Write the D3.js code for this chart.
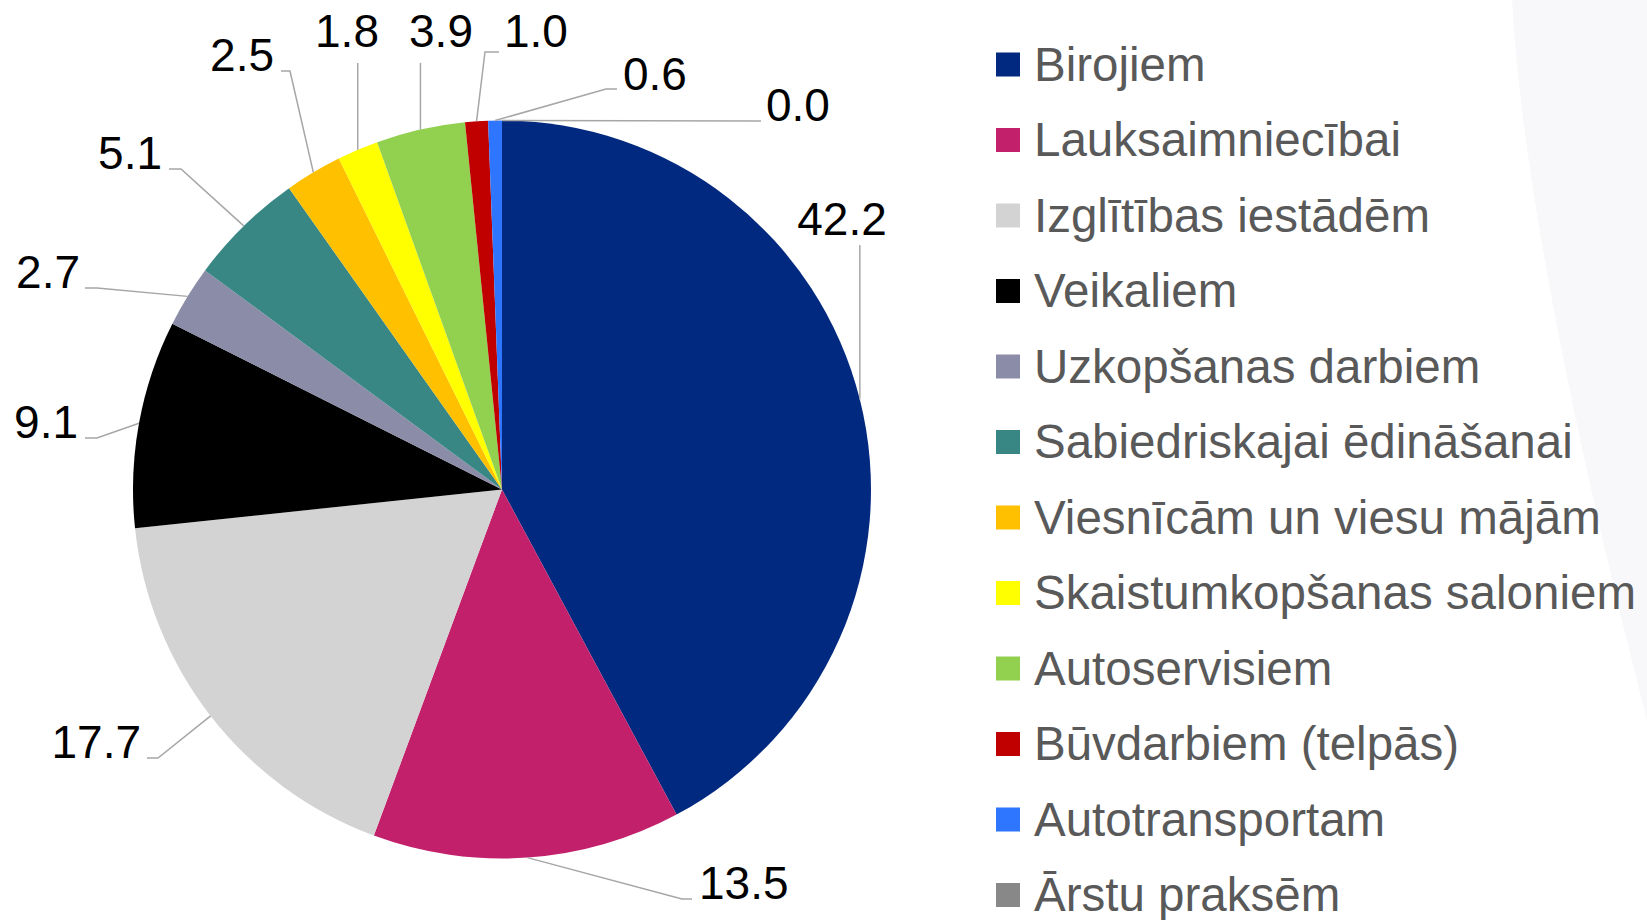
<!DOCTYPE html>
<html>
<head>
<meta charset="utf-8">
<script src="https://cdn.jsdelivr.net/npm/d3@7"></script>
<style>
  body { margin: 0; background: #fff; }
  svg { display: block; font-family: "Liberation Sans", Arial, sans-serif; }
</style>
</head>
<body>
<div id="chart"></div>
<script>
// data
const categories = ["Birojiem", "Lauksaimniecībai", "Izglītības iestādēm", "Veikaliem",
  "Uzkopšanas darbiem", "Sabiedriskajai ēdināšanai", "Viesnīcām un viesu mājām",
  "Skaistumkopšanas saloniem", "Autoservisiem", "Būvdarbiem (telpās)",
  "Autotransportam", "Ārstu praksēm"];
const values = [42.2, 13.5, 17.7, 9.1, 2.7, 5.1, 2.5, 1.8, 3.9, 1.0, 0.6, 0.0];
const colors = ["#00297f", "#c2206b", "#d3d3d3", "#000000", "#8b8ca7", "#388785",
  "#ffc000", "#ffff00", "#92d050", "#c00000", "#2e75ff", "#888888"];

// label placement (text anchor + leader bends), one per slice
const labelLayout = [
  {x: 842, y: 235, anchor: "middle", vert: 245},
  {x: 699, y: 899, anchor: "start", bends: [[682, 899], [692, 899]]},
  {x: 141, y: 758, anchor: "end", bends: [[158, 758], [147, 758]]},
  {x: 78, y: 438, anchor: "end", bends: [[97, 438], [85, 438]]},
  {x: 80, y: 288, anchor: "end", bends: [[97, 288], [85, 288]]},
  {x: 162, y: 169, anchor: "end", bends: [[181, 169], [169, 169]]},
  {x: 274, y: 71, anchor: "end", bends: [[290, 71], [281, 71]]},
  {x: 347, y: 47, anchor: "middle", vert: 63},
  {x: 441, y: 47, anchor: "middle", vert: 63},
  {x: 504, y: 47, anchor: "start", bends: [[485, 52], [499, 52]]},
  {x: 623, y: 90, anchor: "start", bends: [[606, 89], [617, 89]]},
  {x: 766, y: 121, anchor: "start", bends: [[761, 121]]}
];

const width = 1647, height = 920;
const cx = 502, cy = 489.5, radius = 369;

const svg = d3.select("#chart").append("svg")
    .attr("width", width)
    .attr("height", height);

// faint background swoosh on the right
svg.append("path")
   .attr("d", "M1512,0 C1520,150 1562,390 1647,720 L1647,0 Z")
   .style("fill", "#f8f8fb");

const pie = d3.pie().sort(null).value(d => d)
    .startAngle(0).endAngle(2 * Math.PI);
const arcs = pie(values);

const arc = d3.arc().innerRadius(0).outerRadius(radius);

const g = svg.append("g").attr("transform", `translate(${cx},${cy})`);

g.selectAll("path.slice")
  .data(arcs)
  .join("path")
    .attr("class", "slice")
    .attr("d", arc)
    .style("fill", (d, i) => colors[i]);

// leader lines
function edgePoint(d) {
  const a = (d.startAngle + d.endAngle) / 2;
  return [cx + radius * Math.sin(a), cy - radius * Math.cos(a)];
}

const line = d3.line();
arcs.forEach((d, i) => {
  const lay = labelLayout[i];
  const p = edgePoint(d);
  let pts;
  if (lay.vert !== undefined) pts = [p, [p[0], lay.vert]];
  else pts = [p].concat(lay.bends);
  svg.append("path")
     .attr("d", line(pts))
     .style("fill", "none")
     .style("stroke", "#a6a6a6")
     .style("stroke-width", 1.5);
});

// value labels
svg.selectAll("text.val")
  .data(arcs)
  .join("text")
    .attr("class", "val")
    .attr("x", (d, i) => labelLayout[i].x)
    .attr("y", (d, i) => labelLayout[i].y)
    .attr("text-anchor", (d, i) => labelLayout[i].anchor)
    .style("font-size", "46px")
    .style("fill", "#000")
    .text(d => d3.format(".1f")(d.data));

// legend
const legendY = d3.scaleLinear().domain([0, 1]).range([64.5, 140]);
const legend = svg.append("g");
const items = legend.selectAll("g")
  .data(categories)
  .join("g")
    .attr("transform", (d, i) => `translate(996,${legendY(i)})`);

items.append("rect")
   .attr("x", 0).attr("y", -12)
   .attr("width", 24).attr("height", 24)
   .style("fill", (d, i) => colors[i]);

items.append("text")
   .attr("x", 38).attr("y", 16)
   .style("font-size", "47.5px")
   .style("fill", "#595959")
   .text(d => d);
</script>
</body>
</html>
